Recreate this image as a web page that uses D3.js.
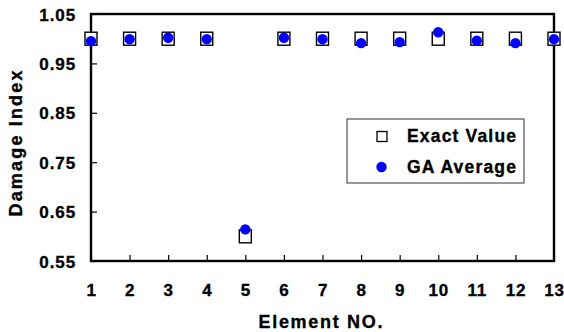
<!DOCTYPE html>
<html><head><meta charset="utf-8">
<script src="https://cdn.jsdelivr.net/npm/d3@7"></script>
<style>body{margin:0;background:#fff}svg{display:block}text{font-family:"Liberation Sans",Arial,sans-serif !important;font-weight:bold !important;fill:#000;stroke:#000;stroke-width:0.35px}</style>
</head><body><svg id="c" width="564" height="332"></svg>
<script>
const elements = [1,2,3,4,5,6,7,8,9,10,11,12,13];
const exactValue = [1.0,1.0,1.0,1.0,0.6,1.0,1.0,1.0,1.0,1.0,1.0,1.0,1.0];
const gaAverage = [0.995,0.999,1.002,0.999,0.614,1.002,0.999,0.991,0.993,1.013,0.996,0.991,0.999];
const yTicks = [0.55,0.65,0.75,0.85,0.95,1.05];
const seriesNames = ["Exact Value","GA Average"];

const svg = d3.select("#c");
const L=91,R=554,T=14,B=261;
const x = d3.scaleLinear().domain([1,13]).range([L,R]);
const y = d3.scaleLinear().domain([0.55,1.05]).range([B,T]);

// frame
svg.append("rect").attr("x",L).attr("y",T).attr("width",R-L).attr("height",B-T)
  .attr("fill","none").attr("stroke","#000").attr("stroke-width",2.4);

// y axis
const ya = svg.append("g").attr("transform",`translate(${L},0)`)
  .call(d3.axisLeft(y).tickValues(yTicks).tickFormat(d3.format(".2f")).tickSizeInner(-6).tickSizeOuter(0).tickPadding(15));
ya.select(".domain").remove();
ya.selectAll("line").attr("stroke","#000").attr("stroke-width",1.2);
ya.selectAll("text").style("font-size","17px").style("letter-spacing","0.9px").attr("fill","#000").attr("dy","0.36em");

// x axis
const xa = svg.append("g").attr("transform",`translate(0,${B})`)
  .call(d3.axisBottom(x).tickValues(elements).tickFormat(d3.format("d")).tickSizeInner(-6).tickSizeOuter(0).tickPadding(23));
xa.select(".domain").remove();
xa.selectAll("line").attr("stroke","#000").attr("stroke-width",1.2);
xa.selectAll("text").style("font-size","17px").style("letter-spacing","0.8px").attr("fill","#000");

// axis titles
svg.append("text").attr("x",(L+R)/2-2).attr("y",327.5).attr("text-anchor","middle")
  .style("font-size","18px").attr("textLength",124).attr("lengthAdjust","spacing").text("Element NO.");
svg.append("text").attr("transform","translate(21.5,143.5) rotate(-90)").attr("text-anchor","middle")
  .style("font-size","18px").attr("textLength",146).attr("lengthAdjust","spacing").text("Damage Index");

// series
const sw=12, sh=13;
svg.append("g").selectAll("rect").data(elements).join("rect")
  .attr("x",(d)=>x(d)-sw/2).attr("y",(d,i)=>y(exactValue[i])-sh/2)
  .attr("width",sw).attr("height",sh).attr("fill","#fff").attr("stroke","#000").attr("stroke-width",1.4);
svg.append("g").selectAll("circle").data(elements).join("circle")
  .attr("cx",(d)=>x(d)).attr("cy",(d,i)=>y(gaAverage[i])).attr("r",5.2).attr("fill","#0000ff");

// legend
const lg = svg.append("g");
lg.append("rect").attr("x",347).attr("y",119).attr("width",177).attr("height",64)
  .attr("fill","#fff").attr("stroke","#333").attr("stroke-width",1);
lg.append("rect").attr("x",377).attr("y",131.5).attr("width",10).attr("height",10)
  .attr("fill","#fff").attr("stroke","#000").attr("stroke-width",1.3);
lg.append("circle").attr("cx",381.5).attr("cy",167).attr("r",5.2).attr("fill","#0000ff");
lg.append("text").attr("x",407).attr("y",141.5).style("font-size","17.5px").attr("textLength",109).attr("lengthAdjust","spacing").text(seriesNames[0]);
lg.append("text").attr("x",407).attr("y",172.5).style("font-size","17.5px").attr("textLength",109).attr("lengthAdjust","spacing").text(seriesNames[1]);
</script></body></html>
